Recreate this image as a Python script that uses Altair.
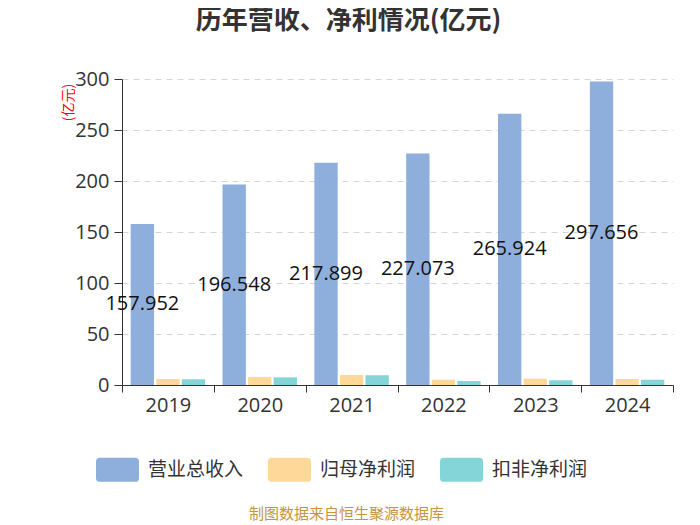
import altair as alt
import pandas as pd

years = ["2019", "2020", "2021", "2022", "2023", "2024"]
series = ["营业总收入", "归母净利润", "扣非净利润"]
revenue = [157.952, 196.548, 217.899, 227.073, 265.924, 297.656]
net_profit = [5.9, 7.8, 9.8, 5.2, 6.2, 5.9]
deducted_profit = [5.6, 7.5, 9.5, 3.9, 4.6, 5.2]
colors = ["#8eaedc", "#fdd898", "#84d5d8"]

rows = []
for i, y in enumerate(years):
    for s, vals in zip(series, [revenue, net_profit, deducted_profit]):
        rows.append({"year": y, "series": s, "value": vals[i],
                     "label": f"{vals[i]:.3f}" if s == series[0] else ""})
df = pd.DataFrame(rows)

FONT = "Noto Sans CJK SC"
NUM = "Open Sans, Noto Sans CJK SC"
rr = ("M-0.82,-0.56 L0.82,-0.56 Q1,-0.56 1,-0.38 L1,0.38 Q1,0.56 0.82,0.56 "
      "L-0.82,0.56 Q-1,0.56 -1,0.38 L-1,-0.38 Q-1,-0.56 -0.82,-0.56 Z")

x = alt.X("year:N", sort=years,
          scale=alt.Scale(paddingInner=0, paddingOuter=0),
          axis=alt.Axis(labelAngle=0, labelFontSize=20, labelColor="#333",
                        labelFont=NUM, tickBand="extent", tickSize=7,
                        tickColor="#333", domainColor="#333", labelPadding=3,
                        title="制图数据来自恒生聚源数据库", titleFont=FONT,
                        titleFontSize=15, titleFontWeight="normal",
                        titleColor="#c8943a", titleX=224, titleY=128,
                        titleAlign="center", titleBaseline="middle"))
xo = alt.XOffset("series:N", sort=series,
                 scale=alt.Scale(domain=series, paddingInner=0.087, paddingOuter=0.34))
y = alt.Y("value:Q",
          scale=alt.Scale(domain=[0, 300], nice=False),
          axis=alt.Axis(values=[0, 50, 100, 150, 200, 250, 300], labelFontSize=20,
                        labelColor="#333", labelFont=NUM, tickSize=8,
                        tickColor="#333", domainColor="#333", labelPadding=5,
                        grid=True, gridDash=[6, 5], gridColor="#d6d6d6",
                        title="(亿元)", titleFont=FONT, titleFontSize=14,
                        titleFontWeight="normal", titleColor="#ff0000",
                        titleAngle=270, titleX=-54, titleY=23,
                        titleAlign="center", titleBaseline="middle"))

bars = alt.Chart(df).mark_bar().encode(
    x=x, xOffset=xo, y=y,
    color=alt.Color("series:N", sort=series,
                    scale=alt.Scale(domain=series, range=colors),
                    legend=alt.Legend(title=None, orient="none", direction="horizontal",
                                      legendX=-26, legendY=369,
                                      symbolType=rr, symbolSize=1849,
                                      symbolStrokeWidth=0, symbolOpacity=1,
                                      labelFontSize=19, labelFont=FONT,
                                      labelColor="#333", labelOffset=9,
                                      columnPadding=24)),
)

labels = alt.Chart(df).transform_filter(
    alt.datum.series == series[0]
).transform_calculate(
    half="datum.value / 2"
).mark_text(fontSize=20, font=NUM, color="#111", baseline="middle").encode(
    x=x, xOffset=xo,
    y=alt.Y("half:Q"),
    text="label:N",
)

chart = alt.layer(bars, labels).properties(
    width=551, height=306,
    autosize=alt.AutoSizeParams(type="none"),
    padding={"left": 114, "top": 71, "right": 19, "bottom": 137},
    title=alt.TitleParams("历年营收、净利情况(亿元)", fontSize=26, fontWeight="bold",
                          font=FONT, color="#333", anchor="middle", dx=-49,
                          offset=22, baseline="middle"),
).configure_view(stroke=None)

chart.save("out.html", embed_options={"renderer": "svg", "actions": False})
